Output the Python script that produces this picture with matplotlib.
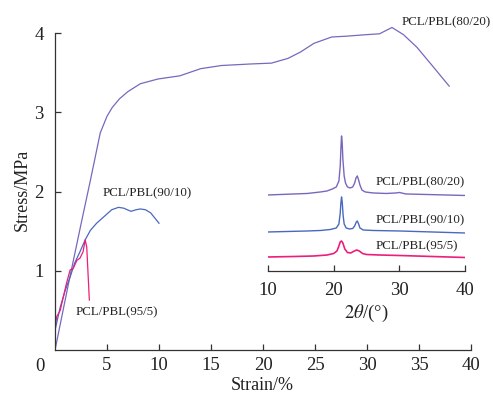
import matplotlib
matplotlib.use("Agg")
import matplotlib.pyplot as plt

plt.rcParams['font.family'] = ['Liberation Serif', 'DejaVu Serif']
plt.rcParams['mathtext.fontset'] = 'stix'

# tensile curves (strain %, stress MPa)
strain_8020 = [0, 1.3, 2.55, 3.4, 4.35, 5.0, 5.5, 6.2, 7.0, 8.2, 9.9, 12, 14, 16, 18.9,
               20.8, 22.4, 23.6, 24.9, 26.6, 28, 30, 31.2, 31.8, 32.4, 33.5, 34.8, 36.2, 37.9]
stress_8020 = [0, 0.84, 1.62, 2.14, 2.74, 2.95, 3.06, 3.17, 3.26, 3.36, 3.42, 3.46, 3.55, 3.59, 3.61,
               3.62, 3.68, 3.76, 3.87, 3.95, 3.96, 3.98, 3.99, 4.03, 4.07, 3.98, 3.82, 3.6, 3.33]

strain_9010 = [0, 0.5, 1.0, 1.45, 1.9, 2.4, 2.9, 3.4, 4.0, 4.6, 5.45, 6.1, 6.6, 7.3, 7.8, 8.2,
               8.7, 9.2, 10.0]
stress_9010 = [0.25, 0.54, 0.76, 0.92, 1.1, 1.24, 1.39, 1.51, 1.6, 1.67, 1.77, 1.8, 1.79, 1.75,
               1.77, 1.78, 1.77, 1.73, 1.6]

strain_955 = [0, 0.16, 0.5, 0.8, 1.1, 1.45, 1.75, 2.1, 2.4, 2.7, 2.9, 3.05, 3.3]
stress_955 = [0.29, 0.42, 0.5, 0.67, 0.84, 1.01, 1.03, 1.13, 1.16, 1.24, 1.39, 1.3, 0.63]

# XRD patterns (2theta, offset intensity)
tt_8020 = [10, 12, 14, 16, 18, 19, 19.8, 20.4, 20.8, 21.0, 21.1, 21.2, 21.3, 21.4, 21.6, 21.8,
           22.1, 22.5, 22.9, 23.2, 23.4, 23.6, 23.8, 24.0, 24.3, 24.8, 26, 28, 29.5, 30, 31, 34, 37, 40]
i_8020 = [76, 76.5, 77, 77.5, 79, 80, 82, 84, 90, 105, 122, 135, 128, 112, 95, 88,
          84, 83, 84, 88, 93, 95, 91, 86, 81, 79, 78, 77.5, 78, 78.5, 77, 76.5, 76, 75.5]

tt_9010 = [10, 13, 16, 18, 19.5, 20.4, 20.8, 21.0, 21.1, 21.2, 21.3, 21.45, 21.6, 21.9, 22.4,
           22.9, 23.2, 23.45, 23.6, 23.8, 24.0, 24.5, 26, 30, 35, 40]
i_9010 = [39, 39.5, 40, 40.5, 41.5, 43, 47, 58, 68, 74, 69, 55, 47, 43, 42,
          42.5, 45, 49, 50, 47, 43, 41, 40.5, 40, 39, 38]

tt_955 = [10, 14, 17, 19, 20, 20.5, 20.8, 21.0, 21.2, 21.4, 21.7, 22.1, 22.6, 23.0, 23.5,
          23.9, 24.4, 25, 27, 30, 35, 40]
i_955 = [14, 14.5, 15, 16, 17.5, 20, 25, 29, 30, 28, 22, 18.5, 18, 19.5, 21,
         20, 17.5, 16.5, 16, 15.5, 14.5, 13.5]

labels = ['PCL/PBL(80/20)', 'PCL/PBL(90/10)', 'PCL/PBL(95/5)']
c_purple = '#7a67bd'
c_blue = '#4a68bf'
c_pink = '#ec1e7c'
dark = '#333333'

fig = plt.figure(figsize=(4.93, 3.99), dpi=100)
ax = fig.add_axes([0.1116, 0.1228, 0.8438, 0.854])

ax.plot(strain_8020, stress_8020, color=c_purple, lw=0.9)
ax.plot(strain_9010, stress_9010, color=c_blue, lw=0.9)
ax.plot(strain_955, stress_955, color=c_pink, lw=0.9)

ax.set_xlim(0, 40)
ax.set_ylim(0, 4.3)
ax.set_xticks([5, 10, 15, 20, 25, 30, 35, 40])
ax.set_yticks([1, 2, 3, 4])
for s in ['top', 'right']:
    ax.spines[s].set_visible(False)
for s in ['left', 'bottom']:
    ax.spines[s].set_color(dark)
    ax.spines[s].set_linewidth(0.9)
ax.spines['left'].set_bounds(0, 4)
ax.tick_params(direction='in', length=4, width=0.9, color=dark, labelsize=13.5, labelcolor='#222222')
ax.tick_params(axis='y', pad=8)
ax.tick_params(axis='x', pad=5)
ax.annotate('0', xy=(0, 0), xycoords='data', xytext=(-15, -16), textcoords='offset pixels',
            ha='center', va='center', fontsize=13.5, color='#222222')

ax.set_xlabel('Strain/%', fontsize=13, color='#222222')
ax.set_ylabel('Stress/MPa', fontsize=13, color='#222222')
ax.xaxis.set_label_coords(0.498, -0.103)
ax.xaxis.label.set_va('center')
ax.yaxis.set_label_coords(-0.079, 0.47)
ax.yaxis.label.set_va('center')

ax.text(33.3, 4.13, labels[0], fontsize=9.3, color='#222222', ha='left', va='center')
ax.text(4.6, 1.98, labels[1], fontsize=9.3, color='#222222', ha='left', va='center')
ax.text(2.0, 0.48, labels[2], fontsize=9.3, color='#222222', ha='left', va='center')

# XRD inset
ins = fig.add_axes([0.5436, 0.3208, 0.3996, 0.341])
ins.plot(tt_8020, i_8020, color=c_purple, lw=1.0)
ins.plot(tt_9010, i_9010, color=c_blue, lw=1.0)
ins.plot(tt_955, i_955, color=c_pink, lw=1.2)
ins.set_xlim(10, 40)
ins.set_ylim(0, 136)
ins.patch.set_alpha(0)
for s in ['top', 'right', 'left']:
    ins.spines[s].set_visible(False)
ins.spines['bottom'].set_color(dark)
ins.spines['bottom'].set_linewidth(0.9)
ins.set_yticks([])
ins.set_xticks([10, 20, 30, 40])
ins.tick_params(axis='x', direction='in', length=4, width=0.9, color=dark, labelsize=13.5,
                labelcolor='#222222', pad=8)
ins.set_xlabel(r'$2\mathit{\theta}$/(°)', fontsize=13.5, color='#222222')
ins.xaxis.set_label_coords(0.5, -0.31)
ins.xaxis.label.set_va('center')

ins.text(26.4, 89, labels[0], fontsize=9.3, color='#222222', ha='left', va='center')
ins.text(26.4, 51, labels[1], fontsize=9.3, color='#222222', ha='left', va='center')
ins.text(26.4, 25, labels[2], fontsize=9.3, color='#222222', ha='left', va='center')

fig.savefig('out.png', dpi=100)
